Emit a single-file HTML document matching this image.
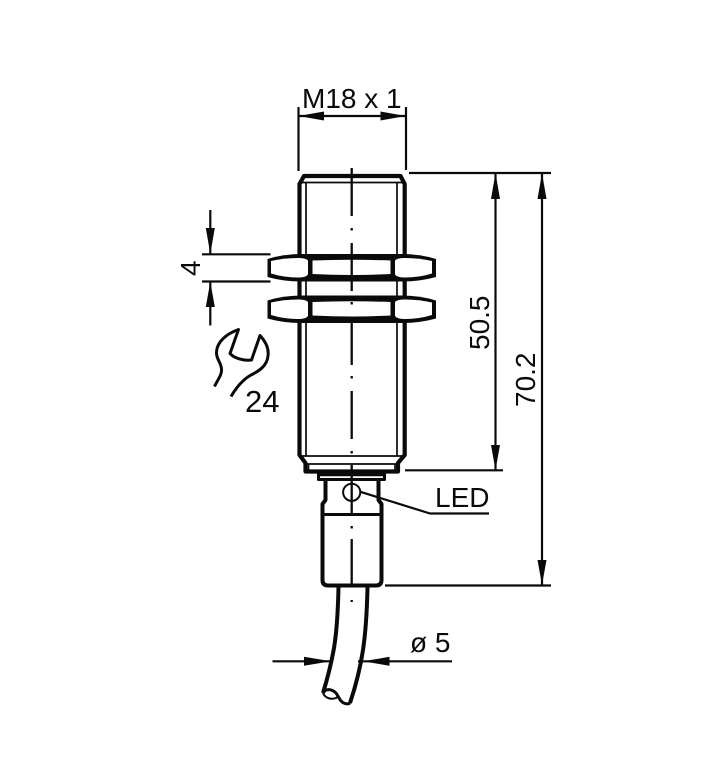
<!DOCTYPE html>
<html>
<head>
<meta charset="utf-8">
<style>
html,body{margin:0;padding:0;background:#fff;width:709px;height:780px;overflow:hidden}
svg{display:block}
text{font-family:"Liberation Sans",sans-serif;font-size:28px;fill:#0a0a0a}
</style>
</head>
<body>
<svg width="709" height="780" viewBox="0 0 709 780" xmlns="http://www.w3.org/2000/svg">
<rect width="709" height="780" fill="#fff"/>
<g fill="none" stroke="#0a0a0a" stroke-linejoin="round">
  <!-- body -->
  <path d="M299.5 455 V184 L304 176 H400.5 L404.7 184 V455 L398 463 V471.5 H305.5 V463 Z" stroke-width="4.2" fill="#fff"/>
  <path d="M306 182 V456 M397 182 V456 M300 182.5 H404 M300 456 H404 M305 464 H398 M308.5 464 V470 M395 464 V470" stroke-width="1.7"/>
  <!-- neck -->
  <path d="M318.5 473.5 H384.5 V479.5 H318.5 Z" stroke-width="3" fill="#fff"/>
  <path d="M319 475.5 H384" stroke-width="1.6"/>
  <path d="M325.5 480 V500 L322.5 504 V580 Q322.5 585.5 328 585.5 H376 Q381.5 585.5 381.5 580 V504 L378.5 500 V480" stroke-width="4"/>
  <path d="M322.5 514.5 H381.5" stroke-width="3"/>
  <circle cx="351.7" cy="492.3" r="8.6" stroke-width="2"/>
  <path d="M360 491.7 L430 513.5 H489" stroke-width="2.2"/>
  <!-- cable -->
  <path d="M338.5 587 C338 610 337 630 334 648 C331 665 327 680 323 693" stroke-width="4"/>
  <path d="M367.5 587 C367 610 366 630 363 650 C360 670 355 688 350 703" stroke-width="4"/>
  <path d="M323 693 C326 688 332 689 336 693 C339 697 340 702 345 703.5 C347 704 349 704 350 703" stroke-width="3"/>
  <path d="M323 693 C325 698 331 700 336 698 C338 697 338 695 337 694" stroke-width="2"/>
  <!-- wrench -->
  <path d="M214.5 386.5 C218 379 222 375 221.5 369 C221 362 216 359 216.5 352 C217 342 226 334 238.5 329.5 L230 353.5 C234 358 243 361 251.5 360 L260 335.5 C266 342 269 349 268 356 C267 366 259 371 251 375 C242 380 236 388 231 396.5" stroke-width="3"/>
</g>
<!-- nuts -->
<g>
  <path d="M267.5 259 Q283 254 302 254 H402 Q420 254 436 259 V277 Q420 281.5 402 281.5 H302 Q283 281.5 267.5 277 Z" fill="#0a0a0a"/>
  <path d="M271 261 Q284 258 298 258 Q306 258 308 260.5 V274.5 Q306 277.5 298 277.5 Q284 277.5 271 273.5 Z" fill="#fff"/>
  <path d="M312.5 260.5 Q352 259 390.5 260.5 V274 Q352 276 312.5 274 Z" fill="#fff"/>
  <path d="M395 260.5 Q397 258 405 258 Q419 258 432 261 V273.5 Q419 277.5 405 277.5 Q397 277.5 395 274.5 Z" fill="#fff"/>
</g>
<g transform="translate(0,41.5)">
  <path d="M267.5 259 Q283 254 302 254 H402 Q420 254 436 259 V277 Q420 281.5 402 281.5 H302 Q283 281.5 267.5 277 Z" fill="#0a0a0a"/>
  <path d="M271 261 Q284 258 298 258 Q306 258 308 260.5 V274.5 Q306 277.5 298 277.5 Q284 277.5 271 273.5 Z" fill="#fff"/>
  <path d="M312.5 260.5 Q352 259 390.5 260.5 V274 Q352 276 312.5 274 Z" fill="#fff"/>
  <path d="M395 260.5 Q397 258 405 258 Q419 258 432 261 V273.5 Q419 277.5 405 277.5 Q397 277.5 395 274.5 Z" fill="#fff"/>
</g>
<!-- centre line -->
<path d="M351.7 168 V216 M351.7 228 V230.5 M351.7 243 V291 M351.7 302 V304.5 M351.7 317 V365 M351.7 376 V378.5 M351.7 391 V439 M351.7 451 V453.5 M351.7 465 V513 M351.7 526 V528.5 M351.7 539 V587 M351.7 600 V602" stroke="#0a0a0a" stroke-width="2.3" fill="none"/>
<!-- dimension lines -->
<path d="M298.5 107 V171 M406 107 V170 M298.5 116 H406
M409 173 H551 M405 470.3 H503 M385 585.5 H551
M495.5 173 V470 M542 173 V585
M210.3 210 V254 M210.3 281.5 V325.5 M202 254.3 H270.5 M202 281.5 H270.5
M272.5 661.3 H331 M358 661.3 H452" stroke="#0a0a0a" stroke-width="2.2" fill="none"/>
<!-- arrowheads -->
<g fill="#0a0a0a">
  <path d="M298.5 116 L324 111.5 V120.5 Z"/>
  <path d="M406 116 L380.5 111.5 V120.5 Z"/>
  <path d="M495.5 173 L491 199 H500 Z"/>
  <path d="M495.5 470 L491 445 H500 Z"/>
  <path d="M542 173 L537.5 199 H546.5 Z"/>
  <path d="M542 585 L537.5 560 H546.5 Z"/>
  <path d="M210.3 254 L205.8 228 H214.8 Z"/>
  <path d="M210.3 281.5 L205.8 307 H214.8 Z"/>
  <path d="M331 661.3 L304 656.8 V665.8 Z"/>
  <path d="M363 661.3 L389.5 656.8 V665.8 Z"/>
</g>
<!-- labels -->
<text x="302" y="108">M18 x 1</text>
<text x="435" y="507">LED</text>
<text x="245" y="412" style="font-size:31px">24</text>
<text x="410" y="652">ø 5</text>
<text transform="translate(200,276) rotate(-90)">4</text>
<text transform="translate(489,350) rotate(-90)">50.5</text>
<text transform="translate(535,407) rotate(-90)">70.2</text>
</svg>
</body>
</html>
